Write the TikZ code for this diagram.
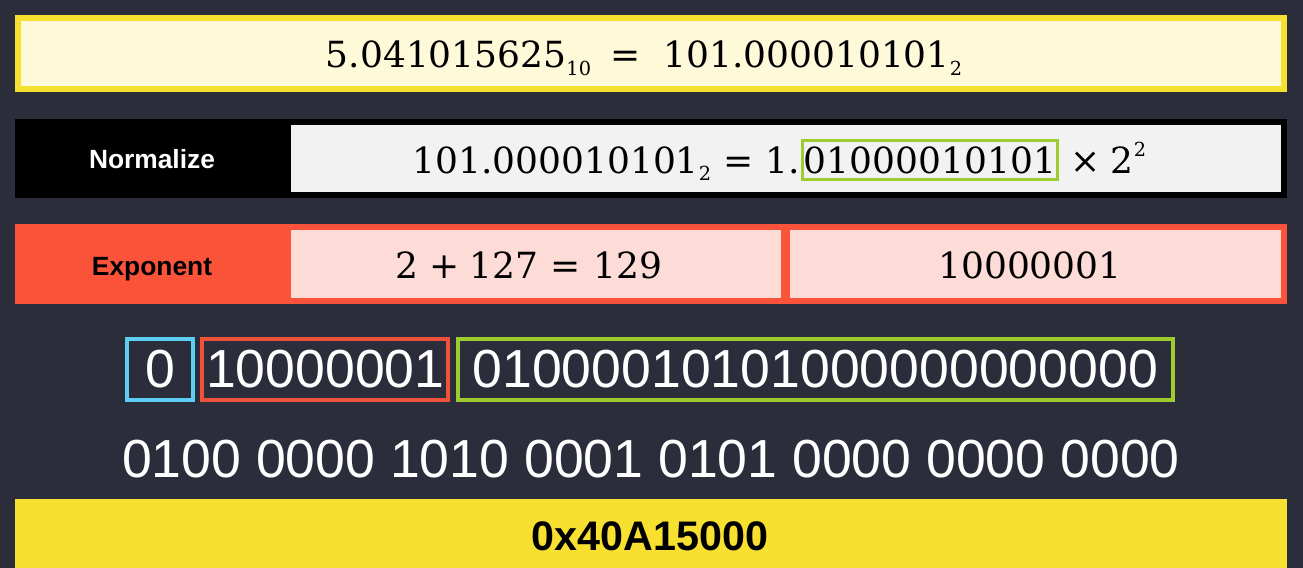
\RequirePackage{fix-cm}
\documentclass[tikz,border=0pt]{standalone}
\usepackage{fontspec}
\newfontfamily\numfont{DejaVu Serif}
\newfontfamily\arial{Liberation Sans}
% small lowered / raised indices in the number font
\newcommand{\lowidx}[1]{\raisebox{-0.2em}{\fontsize{11}{12}\selectfont #1}}
\newcommand{\highidx}[1]{\raisebox{0.45em}{\fontsize{11}{12}\selectfont #1}}

\definecolor{slate}{HTML}{2B2D3B}
\definecolor{sun}{HTML}{F8E031}
\definecolor{cream}{HTML}{FEF9D8}
\definecolor{paper}{HTML}{F2F2F2}
\definecolor{tomato}{HTML}{FA5339}
\definecolor{blush}{HTML}{FDDBD6}
\definecolor{sky}{HTML}{5CCDF3}
\definecolor{brick}{HTML}{F1503A}
\definecolor{lime}{HTML}{9CCC2E}

\begin{document}
\begin{tikzpicture}[x=0.02cm,y=-0.02cm,
    eqn/.style={font=\numfont\fontsize{20.5}{24}\selectfont, anchor=base, inner sep=0pt},
    rowlabel/.style={font=\arial\bfseries\fontsize{15}{18}\selectfont, anchor=base},
    bits/.style={font=\arial\fontsize{30.5}{36}\selectfont, text=white},
    bitbox/.style={bits, draw, line width=2.3pt, minimum height=1.22cm, inner sep=0pt}]
    \fill [slate] (0,0) rectangle (1303,568);
    \useasboundingbox (0,0) rectangle (1303,568);
    % decimal = binary
    \filldraw [draw=sun, fill=cream, line width=3.4pt] (18,18) rectangle (1284,89);
    \node [eqn] (dec) at (644,68) {5.041015625\lowidx{10}\hspace{11pt}=\hspace{13pt}101.000010101\lowidx{2}};
    % normalize
    \fill [black] (15,119) rectangle (1287,198);
    \fill [paper] (291,125) rectangle (1281,192);
    \node [rowlabel, text=white] (norm) at (152,168) {Normalize};
    \node [draw=lime, line width=1.7pt, inner xsep=1pt, inner ysep=3.5pt,
        font=\numfont\fontsize{20.5}{24}\selectfont] (mant) at (930,160) {01000010101};
    \node [eqn, anchor=base east] (lhs) at (mant.base west) {101.000010101\lowidx{2}\hspace{7pt}=\hspace{7pt}1.};
    \node [eqn, anchor=base west] (rhs) at (mant.base east) {\hspace{6pt}×\hspace{6pt}2\highidx{2}};
    % exponent
    \fill [tomato] (15,224) rectangle (1287,304);
    \fill [blush] (291,230) rectangle (781,298);
    \fill [blush] (790,230) rectangle (1281,298);
    \node [rowlabel] (expo) at (152,275) {Exponent};
    \node [eqn] (bias) at (529,278) {2\hspace{6pt}+\hspace{6pt}127\hspace{7pt}=\hspace{7pt}129};
    \node [eqn] (expbits) at (1030,278) {10000001};
    % sign | exponent | mantissa
    \node [bitbox, draw=sky, minimum width=1.32cm] (sign) at (160,369.5) {0};
    \node [bitbox, draw=brick, minimum width=4.92cm] (ebits) at (325.3,369.5) {10000001};
    \node [bitbox, draw=lime, minimum width=14.31cm] (mbits) at (815.3,369.5) {01000010101000000000000};
    % nibbles and hex
    \node [bits, anchor=base] (nibbles) at (651,477) {0100 0000 1010 0001 0101 0000 0000 0000};
    \fill [sun] (15,499) rectangle (1287,568);
    \node [font=\arial\bfseries\fontsize{23.5}{28}\selectfont, anchor=base] (hex) at (650,550) {0x40A15000};
\end{tikzpicture}
\end{document}
